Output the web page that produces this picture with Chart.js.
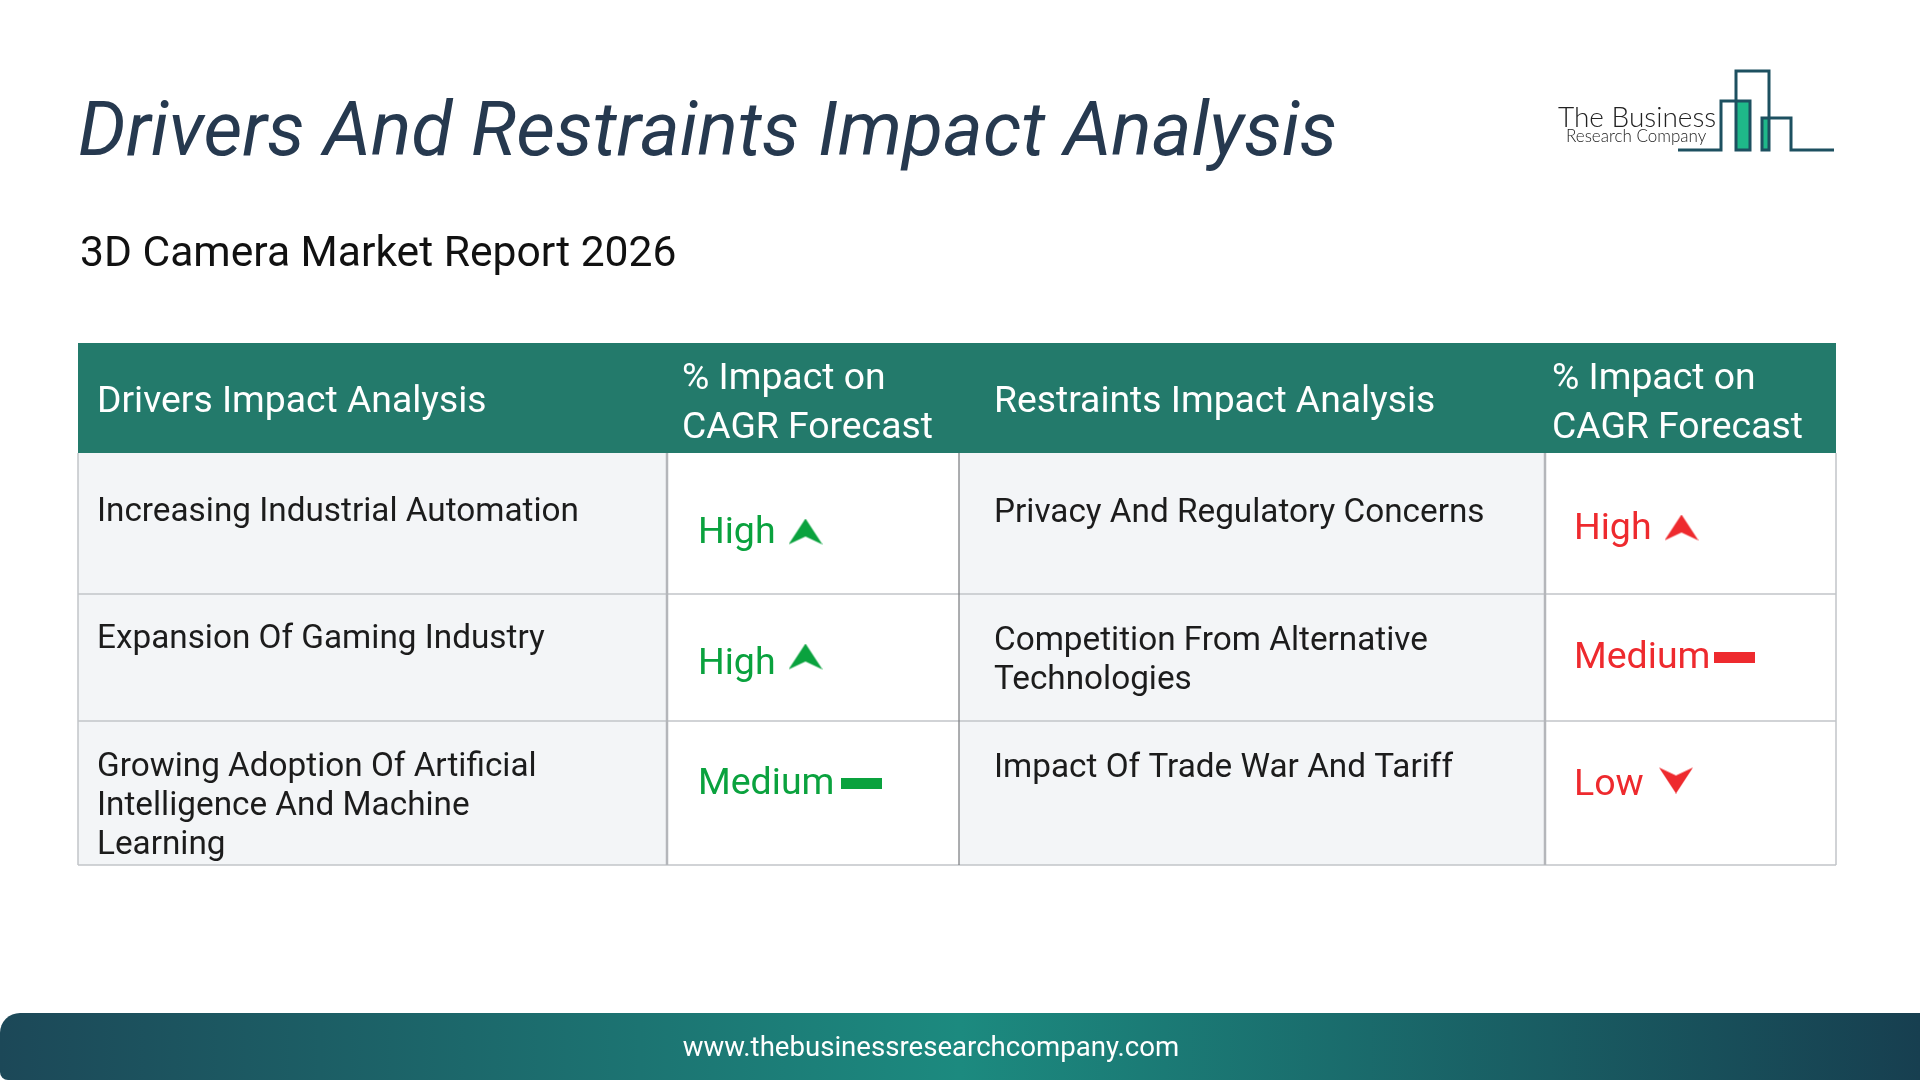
<!DOCTYPE html>
<html>
<head>
<meta charset="utf-8">
<title>Drivers And Restraints Impact Analysis</title>
<script src="https://cdn.jsdelivr.net/npm/chart.js@4"></script>
<style>
  html, body { margin: 0; padding: 0; background: #fff; }
  canvas { display: block; }
</style>
</head>
<body>
<canvas id="myChart" width="1920" height="1080"></canvas>
<script>
// data
const titleText = "Drivers And Restraints Impact Analysis";
const subtitleText = "3D Camera Market Report 2026";
const footerText = "www.thebusinessresearchcompany.com";
const headers = ["Drivers Impact Analysis", "% Impact on|CAGR Forecast", "Restraints Impact Analysis", "% Impact on|CAGR Forecast"];
const drivers = ["Increasing Industrial Automation", "Expansion Of Gaming Industry", "Growing Adoption Of Artificial|Intelligence And Machine|Learning"];
const driverImpact = ["High", "High", "Medium"];
const restraints = ["Privacy And Regulatory Concerns", "Competition From Alternative|Technologies", "Impact Of Trade War And Tariff"];
const restraintImpact = ["High", "Medium", "Low"];

// layout
const colEdges = [78, 667, 959, 1545, 1836];
const rowEdges = [343, 453, 594, 721, 865];
const driverBase = [521, 648, 776];
const restraintBase = [522, 650, 777];
const driverImpactBase = [543, 674, 794];
const restraintImpactBase = [539, 668, 795];
const driverIconY = [532, 657, 783];
const restraintIconY = [528, 657, 780];
const green = "#0aa23e";
const red = "#ee2a2e";

function arrowIcon(color, kind) {
  const c = document.createElement("canvas");
  const g = c.getContext("2d");
  if (kind === "Medium") {
    c.width = 41; c.height = 11;
    g.fillStyle = color;
    g.fillRect(0, 0, 41, 11);
    return c;
  }
  c.width = 34; c.height = 27;
  g.fillStyle = color;
  if (kind === "Low") { g.translate(0, 27); g.scale(1, -1); }
  g.beginPath();
  g.moveTo(17, 0);
  g.lineTo(34, 26);
  g.lineTo(17, 18);
  g.lineTo(0, 26);
  g.closePath();
  g.fill();
  return c;
}

// icon x from the word's left edge
const iconOffset = { High: 105.5, Medium: 161, Low: 100 };
const redMediumShift = -3;
function iconPoint(col, iconY, kind, i) {
  const shift = col === 3 && kind === "Medium" ? redMediumShift : 0;
  return { x: colEdges[col] + (col === 1 ? 33 : 31) + iconOffset[kind] + shift, y: iconY[i] };
}

const tablePlugin = {
  id: "tablePlugin",
  beforeDatasetsDraw(chart) {
    const { ctx, scales: { x, y } } = chart;
    const px = v => x.getPixelForValue(v);
    const py = v => y.getPixelForValue(v);
    const text = (s, xv, yv, font, color, align) => {
      ctx.font = font;
      ctx.fillStyle = color;
      ctx.textAlign = align || "left";
      ctx.textBaseline = "alphabetic";
      ctx.fillText(s, px(xv), py(yv));
    };
    const line = (x1, y1, x2, y2, color, w) => {
      ctx.strokeStyle = color;
      ctx.lineWidth = w;
      ctx.beginPath();
      ctx.moveTo(px(x1), py(y1));
      ctx.lineTo(px(x2), py(y2));
      ctx.stroke();
    };
    ctx.save();

    // title
    text(titleText, 78, 155, "italic 400 75.4px Roboto", "#26394f");
    text(subtitleText, 80, 266, "400 42.6px Roboto", "#111111");

    // logo
    ctx.fillStyle = "#1fb889";
    ctx.fillRect(px(1736), py(101), 14, 49);
    ctx.fillRect(px(1762), py(118), 7, 32);
    ctx.strokeStyle = "#1d5060";
    ctx.lineWidth = 3;
    ctx.beginPath();
    [[1678, 150], [1721, 150], [1721, 101], [1750, 101], [1750, 150], [1736, 150], [1736, 71], [1769, 71], [1769, 150], [1762, 150], [1762, 118], [1791, 118], [1791, 150], [1834, 150]]
      .forEach((p, i) => i ? ctx.lineTo(px(p[0]), py(p[1])) : ctx.moveTo(px(p[0]), py(p[1])));
    ctx.stroke();
    text("The Business", 1558, 127, "300 28px Lato", "#222222");
    text("Research Company", 1566, 142, "300 17px Lato", "#222222");

    // table cells
    ctx.fillStyle = "#f3f5f7";
    [0, 2].forEach(c => ctx.fillRect(px(colEdges[c]), py(rowEdges[1]), px(colEdges[c + 1]) - px(colEdges[c]), py(rowEdges[4]) - py(rowEdges[1])));
    ctx.fillStyle = "#237a6b";
    ctx.fillRect(px(colEdges[0]), py(rowEdges[0]), px(colEdges[4]) - px(colEdges[0]), py(rowEdges[1]) - py(rowEdges[0]));

    // borders
    [2, 3, 4].forEach(r => line(colEdges[0], rowEdges[r], colEdges[4], rowEdges[r], "#c2c4c8", 1.5));
    line(colEdges[0], rowEdges[1], colEdges[0], rowEdges[4], "#c2c4c8", 1.5);
    line(colEdges[1], rowEdges[1], colEdges[1], rowEdges[4], "#b4b6ba", 2.5);
    line(colEdges[2], rowEdges[1], colEdges[2], rowEdges[4], "#77797c", 1.2);
    line(colEdges[3], rowEdges[1], colEdges[3], rowEdges[4], "#b4b6ba", 2.5);
    line(colEdges[4], rowEdges[1], colEdges[4], rowEdges[4], "#c2c4c8", 1.5);

    // header text
    const headFont = "400 37.3px Roboto";
    headers.forEach((h, c) => {
      const parts = h.split("|");
      const left = colEdges[c] + (c === 0 ? 19 : c === 1 ? 15 : c === 2 ? 35 : 7);
      if (parts.length === 1) text(parts[0], left, 412, headFont, "#ffffff");
      else parts.forEach((p, i) => text(p, left, 389 + i * 48.5, headFont, "#ffffff"));
    });

    // body text
    const bodyFont = "400 33.3px Roboto";
    drivers.forEach((d, r) => d.split("|").forEach((p, i) => text(p, colEdges[0] + 19, driverBase[r] + i * 39.2, bodyFont, "#1c1c1c")));
    restraints.forEach((d, r) => d.split("|").forEach((p, i) => text(p, colEdges[2] + 35, restraintBase[r] + i * 39.2, bodyFont, "#1c1c1c")));

    // impact words
    const impactFont = "400 37.5px Roboto";
    driverImpact.forEach((s, r) => text(s, colEdges[1] + 31, driverImpactBase[r], impactFont, green));
    restraintImpact.forEach((s, r) => text(s, colEdges[3] + 29, restraintImpactBase[r], impactFont, red));

    // footer
    const grad = ctx.createLinearGradient(px(0), 0, px(1920), 0);
    grad.addColorStop(0, "#1c4858");
    grad.addColorStop(0.5, "#1c8a7f");
    grad.addColorStop(1, "#173f50");
    ctx.fillStyle = grad;
    ctx.beginPath();
    ctx.roundRect(px(0), py(1013), px(1920) - px(0), py(1080) - py(1013), [20, 0, 0, 8]);
    ctx.fill();
    text(footerText, 931, 1056, "400 27.6px Roboto", "#ffffff", "center");
    ctx.restore();
  }
};

const ctx = document.getElementById("myChart");

new Chart(ctx, {
  type: "scatter",
  data: {
    datasets: [
      {
        label: "Drivers impact",
        data: driverImpact.map((k, i) => iconPoint(1, driverIconY, k, i)),
        pointStyle: driverImpact.map(k => arrowIcon(green, k)),
      },
      {
        label: "Restraints impact",
        data: restraintImpact.map((k, i) => iconPoint(3, restraintIconY, k, i)),
        pointStyle: restraintImpact.map(k => arrowIcon(red, k)),
      },
    ],
  },
  plugins: [tablePlugin],
  options: {
    responsive: false,
    devicePixelRatio: 1,
    animation: false,
    layout: { padding: 0, autoPadding: false },
    plugins: { legend: { display: false }, tooltip: { enabled: false } },
    scales: {
      x: { type: "linear", min: 0, max: 1920, display: false },
      y: { type: "linear", min: 0, max: 1080, reverse: true, display: false },
    },
  },
});
</script>
</body>
</html>
